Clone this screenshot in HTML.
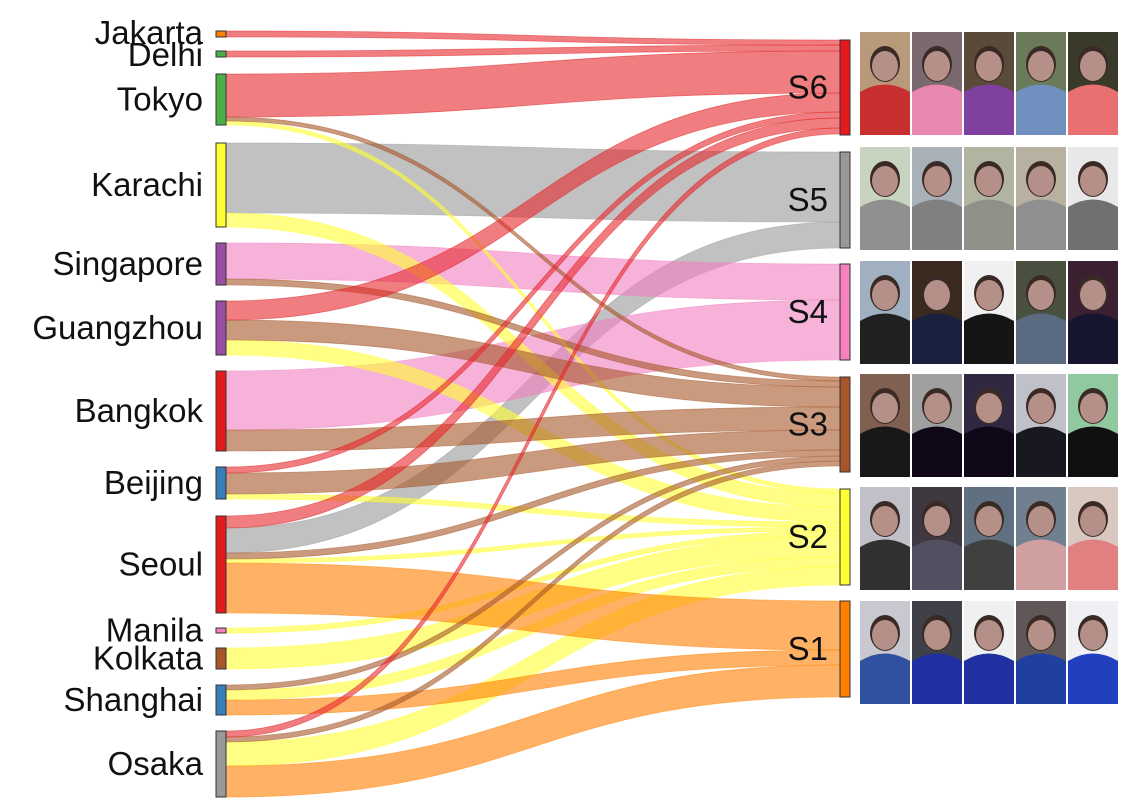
<!DOCTYPE html>
<html><head><meta charset="utf-8"><style>
html,body{margin:0;padding:0;background:#fff;}
svg{display:block;}
text{font-family:"Liberation Sans",sans-serif;}
</style></head><body>
<svg id="s" width="1138" height="810" viewBox="0 0 1138 810" xmlns="http://www.w3.org/2000/svg"></svg>
<script>
const S=document.getElementById('s');let h='';
const X0=226,X1=840,XM=(X0+X1)/2;
const C={r:'#e41a1c',g:'#999999',p:'#f17fc0',b:'#a65628',y:'#ffff33',o:'#ff7f00'};
const F={r:'rgba(230,40,45,0.6)',g:'rgba(160,160,160,0.65)',p:'rgba(241,127,192,0.6)',b:'rgba(166,86,40,0.6)',y:'rgba(255,255,51,0.6)',o:'rgba(255,127,0,0.6)'};
const links=[
['g',143,213,152,222],['g',528,553,222,248],
['p',243,279,264,300],['p',371,430,300,360],
['y',121,125,489,493],['y',213,227,493,507],['y',340,355,507,522],['y',494,499,522,527],['y',559,563,527,531],['y',628,633,531,536],['y',648,669,536,557],['y',690,700,557,567],['y',742,766,567,585],
['o',563,613,601,650],['o',700,715,650,665],['o',766,797,665,697],
['b',117,121,377,381],['b',279,285,381,387],['b',320,340,387,407],['b',430,451,407,430],['b',473,494,430,450],['b',553,559,450,456],['b',685,690,456,461],['b',737,742,461,466],
['r',31,37,40,45],['r',51,57,45,51],['r',74,117,51,93],['r',301,320,93,112],['r',467,473,112,118],['r',516,528,118,128],['r',731,737,128,134]
];
for(const [c,a,b,d,e] of links){
h+=`<path d="M${X0},${a} C${XM},${a} ${XM},${d} ${X1},${d} L${X1},${e} C${XM},${e} ${XM},${b} ${X0},${b} Z" fill="${F[c]}" stroke="${C[c]}" stroke-opacity="0.5" stroke-width="0.8"/>`;}
const L=[['Jakarta',31,37,'#ff7f00'],['Delhi',51,57,'#4daf4a'],['Tokyo',74,125,'#4daf4a'],['Karachi',143,227,'#ffff33'],['Singapore',243,285,'#984ea3'],['Guangzhou',301,355,'#984ea3'],['Bangkok',371,451,'#e41a1c'],['Beijing',467,499,'#377eb8'],['Seoul',516,613,'#e41a1c'],['Manila',628,633,'#f781bf'],['Kolkata',648,669,'#a65628'],['Shanghai',685,715,'#377eb8'],['Osaka',731,797,'#999999']];
const ly={Jakarta:33,Delhi:55};
for(const [n,a,b,c] of L){
h+=`<rect x="216" y="${a}" width="10" height="${b-a}" fill="${c}" stroke="#333" stroke-width="1"/>`;
let y=ly[n]||(a+b)/2;
h+=`<text x="203" y="${y+11}" font-size="33" text-anchor="end" fill="#111" textLength="" >${n}</text>`;}
const R=[['S6',40,135,'#e41a1c'],['S5',152,248,'#999999'],['S4',264,360,'#f781bf'],['S3',377,472,'#a65628'],['S2',489,585,'#ffff33'],['S1',601,697,'#ff7f00']];
for(const [n,a,b,c] of R){
h+=`<rect x="840" y="${a}" width="10" height="${b-a}" fill="${c}" stroke="#333" stroke-width="1"/>`;
h+=`<text x="828" y="${(a+b)/2+11}" font-size="33" text-anchor="end" fill="#111">${n}</text>`;}
const cols=[860,912,964,1016,1068],rows=[32,147,261,374,487,601];
const bg=[['#b89a7a','#7a6a70','#5a4a3a','#6a7a5a','#3a3a2a'],['#c8d4c0','#a8b0b8','#b0b4a0','#b8b0a0','#e8e8e8'],['#a0b0c0','#3a2a20','#f0f0f0','#4a5040','#3a2030'],['#806050','#a0a0a0','#302840','#c0c0c8','#90c8a0'],['#c0c0c8','#403840','#607080','#708090','#d8c8c0'],['#c8c8d0','#404048','#f0f0f0','#605858','#f0f0f4']];
const body=[['#c83030','#e888b0','#8040a0','#7090c0','#e87070'],['#909090','#808080','#909088','#909090','#707070'],['#202020','#1a2040','#151515','#5a6a80','#151530'],['#181818','#100818','#100818','#181820','#101010'],['#303030','#505060','#404040','#d0a0a0','#e08080'],['#3050a0','#2030a0','#2030a0','#2040a0','#2040c0']];
rows.forEach((y,i)=>cols.forEach((x,j)=>{
const w=50,hh=103;
h+=`<rect x="${x}" y="${y}" width="${w}" height="${hh}" fill="${bg[i][j]}"/>`;
h+=`<path d="M${x},${y+hh} L${x},${y+60} Q${x+w/2},${y+45} ${x+w},${y+60} L${x+w},${y+hh} Z" fill="${body[i][j]}"/>`;
h+=`<ellipse cx="${x+w/2}" cy="${y+32}" rx="15" ry="18" fill="#3a2a25"/>`;
h+=`<ellipse cx="${x+w/2}" cy="${y+34}" rx="13" ry="15" fill="#b49088"/>`;
}));
S.innerHTML=h.replace(/ textLength="" /g,' ');
</script>
</body></html>
